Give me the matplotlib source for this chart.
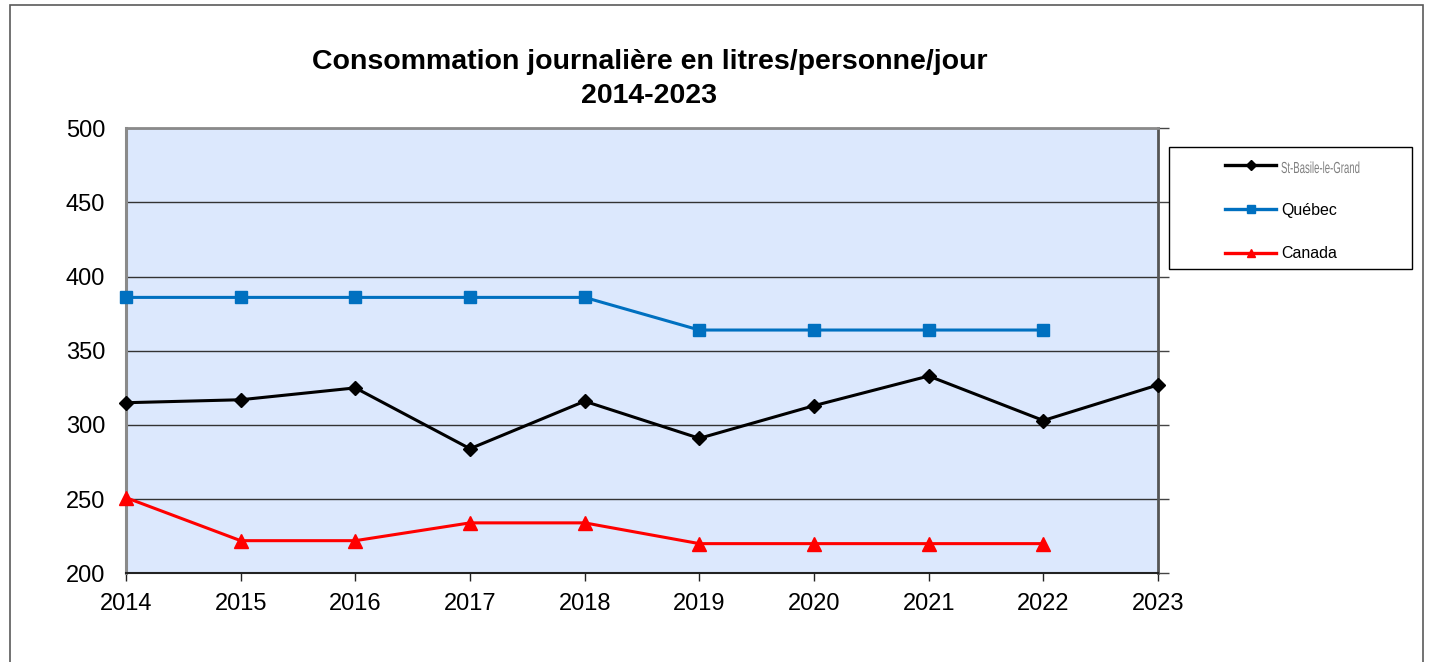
import matplotlib
matplotlib.use("Agg")
import matplotlib.pyplot as plt
from matplotlib.patches import Rectangle, PathPatch
from matplotlib.lines import Line2D
from matplotlib.textpath import TextPath
from matplotlib.font_manager import FontProperties
from matplotlib.transforms import Affine2D, IdentityTransform

# Consommation journalière (litres/personne/jour)
annees = [2014, 2015, 2016, 2017, 2018, 2019, 2020, 2021, 2022, 2023]
st_basile = [315, 317, 325, 284, 316, 291, 313, 333, 303, 327]
annees_qc = [2014, 2015, 2016, 2017, 2018, 2019, 2020, 2021, 2022]
quebec = [386, 386, 386, 386, 386, 364, 364, 364, 364]
canada = [251, 222, 222, 234, 234, 220, 220, 220, 220]
graduations = [200, 250, 300, 350, 400, 450, 500]
series = ['St-Basile-le-Grand', 'Québec', 'Canada']

plt.rcParams['font.family'] = ['Liberation Sans', 'DejaVu Sans']

W, H = 1429, 662
fig = plt.figure(figsize=(W / 100, H / 100), dpi=100)

# cadre extérieur du graphique
fig.patches.append(Rectangle((10 / W, -0.2), (1423 - 10) / W, 1.2 - 5 / H,
                             transform=fig.transFigure, fill=False,
                             edgecolor='#5a5a5a', linewidth=1.2))

ax = fig.add_axes([126 / W, 1 - 573.3 / H, (1158 - 126) / W, (573.3 - 128.3) / H])
ax.set_facecolor('#dce8fd')

ax.plot(annees, st_basile, color='black', lw=2.2, marker='D', markersize=7.5,
        label=series[0], zorder=4, clip_on=False)
ax.plot(annees_qc, quebec, color='#0070c0', lw=2.2, marker='s', markersize=9,
        label=series[1], zorder=3, clip_on=False)
ax.plot(annees_qc, canada, color='#ff0000', lw=2.2, marker='^', markersize=10,
        label=series[2], zorder=3, clip_on=False)

ax.set_xlim(2014, 2023)
ax.set_ylim(200, 500)
ax.set_xticks(annees)
ax.set_yticks(graduations)
ax.yaxis.grid(True, color='#333333', lw=1)
ax.set_axisbelow(True)

ax.tick_params(axis='x', labelsize=17, direction='out', length=6, width=1,
               color='#222222', pad=8)
ax.tick_params(axis='y', labelsize=17, left=False, right=True, labelleft=True,
               direction='out', length=8, width=1, color='#444444', pad=7)

ax.spines['left'].set_color('#8a8a8a')
ax.spines['left'].set_linewidth(2.2)
ax.spines['top'].set_color('#8a8a8a')
ax.spines['top'].set_linewidth(2)
ax.spines['right'].set_color('#555555')
ax.spines['right'].set_linewidth(2)
ax.spines['bottom'].set_color('#222222')
ax.spines['bottom'].set_linewidth(1.5)

fig.text(649.5 / W, 1 - 62 / H, 'Consommation journalière en litres/personne/jour',
         ha='center', va='center', fontsize=20.5, fontweight='bold')
fig.text(649.5 / W, 1 - 96 / H, '2014-2023',
         ha='center', va='center', fontsize=20.5, fontweight='bold')

# boîte de légende
fig.patches.append(Rectangle((1169 / W, 1 - 269 / H), (1412 - 1169) / W, (269 - 147) / H,
                             transform=fig.transFigure, fill=False,
                             edgecolor='black', linewidth=1))
poignees = [Line2D([], [], color='black', lw=2.4, marker='D', markersize=5),
            Line2D([], [], color='#0070c0', lw=2.4, marker='s', markersize=6),
            Line2D([], [], color='#ff0000', lw=2.4, marker='^', markersize=6)]
leg = fig.legend(poignees, series,
                 loc='upper left', bbox_to_anchor=(1225 / W, 1 - 159 / H),
                 frameon=False, fontsize=11.5, handlelength=3.2,
                 handletextpad=0.3, labelspacing=1.8, borderaxespad=0,
                 borderpad=0)

# libellé St-Basile en police étroite et grise (étirement horizontal réduit)
leg.get_texts()[0].set_color('none')
chemin = TextPath((0, 0), series[0], size=16,
                  prop=FontProperties(family='Liberation Sans'))
fig.patches.append(PathPatch(chemin, facecolor='#7f7f7f', edgecolor='none', lw=0,
                             transform=Affine2D().scale(0.6, 1.0).translate(1281, H - 173)
                             + IdentityTransform()))

fig.savefig('out.png', dpi=100)
